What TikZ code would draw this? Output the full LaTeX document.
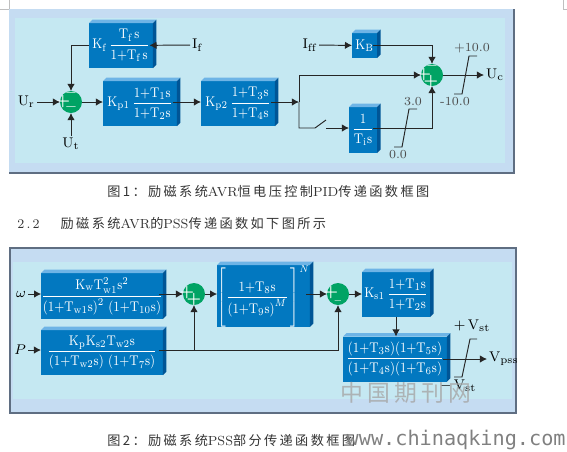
\documentclass[tikz,border=0pt]{standalone}
\usepackage{amsmath}
\usepackage{fontspec}
\usepackage{tikz}
\usetikzlibrary{arrows.meta}
\newfontfamily\cjk[LetterSpace=18]{Noto Sans CJK SC}
\newfontfamily\wmfont{DejaVu Sans Mono}
\definecolor{paneldark}{RGB}{197,220,242}
\definecolor{panellight}{RGB}{197,232,242}
\definecolor{blockfront}{RGB}{2,120,192}
\definecolor{blocktop}{RGB}{110,180,230}
\definecolor{blockside}{RGB}{0,85,150}
\definecolor{sumgreen}{RGB}{0,163,100}
\definecolor{framegray}{RGB}{95,110,130}
\newcommand{\blk}[1]{\scalebox{0.86}[1]{$\displaystyle #1$}}

\begin{document}
\begin{tikzpicture}[
  x=0.02cm, y=-0.02cm,
  block/.style={fill=blockfront, text=white, inner sep=0pt, outer sep=0pt, align=center, font=\fontsize{8}{9}\selectfont},
  sumnode/.style={circle, fill=sumgreen, minimum size=0.44cm, inner sep=0pt, outer sep=0pt},
  sign/.style={text=white, inner sep=0pt, font=\fontsize{9}{9}\selectfont\bfseries},
  lab/.style={inner sep=1pt, font=\fontsize{8}{9}\selectfont},
  limtext/.style={inner sep=0pt, text=black!70, font=\fontsize{7}{8}\selectfont},
  conn/.style={draw=black!85, line width=0.55pt, -{Latex[length=4pt,width=4.2pt]}},
  plain/.style={draw=black!85, line width=0.55pt},
  intoside/.style={shorten >=-2pt},
  fromside/.style={shorten <=-2pt},
  caption/.style={inner sep=0pt, anchor=west, text=black!80, font=\fontsize{7.5}{9}\selectfont}
]
\useasboundingbox (0,0) rectangle (567,451);
\draw[black!25, line width=0.4pt] (0,9) -- (9,9) -- (9,0);
\draw[black!25, line width=0.4pt] (567,9) -- (563,9) -- (563,0);

% first panel
\fill[paneldark] (9,9) rectangle (514,172);
\fill[panellight] (15,18) rectangle (505,163);
\draw[framegray, line width=0.8pt] (9,173) -- (514,173) -- (514,9);

\node[block, minimum width=1.28cm, minimum height=0.9cm] (kf) at (121,45.5) {\blk{\mathrm{K_f}\,\frac{\mathrm{T_f\,s}}{\mathrm{1{+}T_f\,s}}}};
\node[block, minimum width=1.48cm, minimum height=0.9cm] (kpa) at (140,103.5) {\blk{\mathrm{K_{p1}}\,\frac{\mathrm{1{+}T_1 s}}{\mathrm{1{+}T_2 s}}}};
\node[block, minimum width=1.48cm, minimum height=0.9cm] (kpb) at (238,103.5) {\blk{\mathrm{K_{p2}}\,\frac{\mathrm{1{+}T_3 s}}{\mathrm{1{+}T_4 s}}}};
\node[block, minimum width=0.5cm, minimum height=0.5cm] (kb) at (364.5,45.5) {\blk{\mathrm{K_B}}};
\node[block, minimum width=0.56cm, minimum height=0.92cm] (ti) at (363,130) {\blk{\frac{\mathrm{1}}{\mathrm{T_i s}}}};
\node[sumnode] (suma) at (71,102) {};
\node[sumnode] (sumb) at (432,75) {};
\node[sign] (sa1) at (63,102) {+};
\node[sign] (sa2) at (71,95) {--};
\node[sign] (sa3) at (71,109) {--};
\node[sign] (sb1) at (424,75) {+};
\node[sign] (sb2) at (432,68) {--};
\node[sign] (sb3) at (431,82) {+};
\node[lab, anchor=east] (ur) at (37,102) {$\mathrm{U_r}$};
\node[lab, anchor=north] (ut) at (71,136) {$\mathrm{U_t}$};
\node[lab, anchor=west] (ifb) at (190,45) {$\mathrm{I_f}$};
\node[lab, anchor=east] (iff) at (319,45) {$\mathrm{I_{ff}}$};
\node[lab, anchor=west] (uc) at (484,75) {$\mathrm{U_c}$};
\coordinate (jct) at (299,102);
\coordinate (swa) at (315,128);
\coordinate (swb) at (326,120);
\coordinate (swc) at (326,128);

% second panel
\fill[paneldark] (10,248) rectangle (516,412);
\fill[panellight] (13,262) rectangle (512,399);
\draw[framegray, line width=0.8pt] (10,248) rectangle (516,413);

\node[block, minimum width=2.42cm, minimum height=0.92cm] (bw) at (102,296) {\blk{\frac{\mathrm{K_w T_{w1}^2 s^2}}{\mathrm{\left(1{+}T_{w1}s\right)^2\,\left(1{+}T_{10}s\right)}}}};
\node[block, minimum width=2.44cm, minimum height=0.9cm] (bp) at (102,352.5) {\blk{\frac{\mathrm{K_p K_{s2} T_{w2} s}}{\mathrm{\left(1{+}T_{w2}s\right)\,\left(1{+}T_7 s\right)}}}};
\node[block, minimum width=1.78cm, minimum height=1.16cm] (bn) at (263.5,296) {\blk{\left[\vrule height 14pt depth 14pt width 0pt\frac{\mathrm{1{+}T_8 s}}{\mathrm{\left(1{+}T_9 s\right)}^{M}}\,\right]^{N}}};
\node[block, minimum width=1.36cm, minimum height=0.9cm] (ks) at (396,294.5) {\blk{\mathrm{K_{s1}}\,\frac{\mathrm{1{+}T_1 s}}{\mathrm{1{+}T_2 s}}}};
\node[block, minimum width=2.08cm, minimum height=0.9cm] (bf) at (395,359) {\blk{\frac{\mathrm{\left(1{+}T_3 s\right)\!\left(1{+}T_5 s\right)}}{\mathrm{\left(1{+}T_4 s\right)\!\left(1{+}T_6 s\right)}}}};
\node[sumnode] (sumc) at (194,294) {};
\node[sumnode] (sumd) at (338,294) {};
\node[sign] (sc1) at (187,293) {+};
\node[sign] (sc2) at (194,300) {+};
\node[sign] (sd1) at (331,293) {+};
\node[sign, font=\fontsize{5}{5}\selectfont\bfseries] (sd2) at (338,302) {--};
\node[lab, anchor=east] (omg) at (28,294) {$\omega$};
\node[lab, anchor=east] (pin) at (28,350) {$P$};
\node[lab, anchor=west] (vpss) at (487,359) {$\mathrm{V_{pss}}$};
\coordinate (jcp) at (194,350);

% block faces
\foreach \b in {kf,kpa,kpb,kb,ti,bw,bp,bn,ks,bf} {
  \fill[blocktop] (\b.north west) -- ++(3.5,-3.5) -- ([shift={(3.5,-3.5)}]\b.north east) -- (\b.north east) -- cycle;
  \fill[blockside] (\b.north east) -- ++(3.5,-3.5) -- ([shift={(3.5,-3.5)}]\b.south east) -- (\b.south east) -- cycle;
}

% connectors of the first panel
\draw[conn] (ur) -- (suma);
\draw[conn] (ut) -- (suma);
\draw[conn] (kf) -| (suma);
\draw[conn, intoside] (ifb) -- (kf);
\draw[conn] (suma) -- (kpa.west |- suma);
\draw[conn, fromside] (kpa.east |- suma) -- (kpb.west |- suma);
\draw[conn, fromside] (kpb.east |- suma) -- (jct);
\draw[conn] (jct) |- (sumb);
\draw[plain] (jct) |- (swa) -- (swb);
\draw[conn] (swc) -- (ti.west |- swc);
\draw[conn, fromside] (ti.east |- swc) -| (sumb);
\draw[conn] (iff) -- (kb);
\draw[conn, fromside] (kb) -| (sumb);
\draw[conn] (sumb) -- (uc);
\draw[plain] (394,147) -- (402,147) -- (409,109) -- (417,109);
\draw[plain] (454,94) -- (462,94) -- (469,56) -- (477,56);
\node[limtext] (lima) at (413,102) {3.0};
\node[limtext] (limb) at (398,155) {0.0};
\node[limtext] (limc) at (472,48) {+10.0};
\node[limtext] (limd) at (455,102) {-10.0};

% connectors of the second panel
\draw[conn] (omg) -- (bw.west |- omg);
\draw[conn] (pin) -- (bp.west |- pin);
\draw[conn, fromside] (bw.east |- sumc) -- (sumc);
\draw[conn] (sumc) -- (bn.west |- sumc);
\draw[conn, fromside] (bn.east |- sumd) -- (sumd);
\draw[conn] (sumd) -- (ks.west |- sumd);
\draw[conn] (jcp) -- (sumc);
\draw[conn, fromside] (bp.east |- jcp) -| (sumd);
\draw[conn] (ks.south -| 396,0) -- (bf.north -| 396,0) ;
\draw[conn, fromside] (bf) -- (vpss);
\draw[plain] (454,377) -- (462,377) -- (470,339) -- (477,339);
\node[lab] (vup) at (472,326) {$\mathrm{{+}\,V_{st}}$};
\node[lab] (vdn) at (458,386) {$\mathrm{{-}\,V_{st}}$};

% captions
\node[caption] (capa) at (107,191) {{\cjk 图1：励磁系统}AVR{\cjk 恒电压控制}PID{\cjk 传递函数框图}};
\node[caption] (head) at (17,223) {2\,.\,2\hspace{12pt}{\cjk 励磁系统}AVR{\cjk 的}PSS{\cjk 传递函数如下图所示}};
\node[caption] (capb) at (107,440) {{\cjk 图2：励磁系统}PSS{\cjk 部分传递函数框图}};

% watermark
\node[inner sep=0pt, anchor=west, text=black!35, opacity=0.8, font=\cjk\fontsize{13}{14}\selectfont] (wma) at (340,393) {中国期刊网};
\node[inner sep=0pt, anchor=east, text=black!50, font=\wmfont\fontsize{11.5}{13}\selectfont] (wmb) at (566,440) {www.chinaqking.com};
\end{tikzpicture}
\end{document}
